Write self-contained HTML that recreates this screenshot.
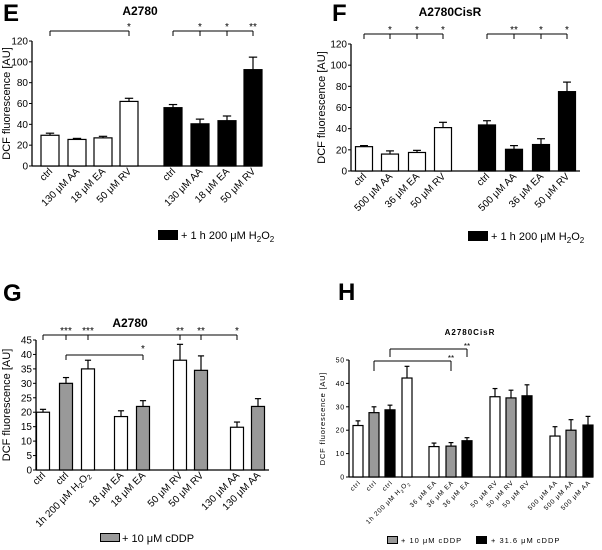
<!DOCTYPE html>
<html><head><meta charset="utf-8"><style>
html,body{margin:0;padding:0;background:#fff;}
svg{display:block;font-family:"Liberation Sans",Arial,sans-serif;}
</style></head><body>
<svg id="fig" width="602" height="550" viewBox="0 0 602 550">
<g font-weight="bold" font-size="24">
<text x="3" y="21">E</text>
<text x="332" y="21">F</text>
<text x="3" y="301">G</text>
<text x="338" y="300">H</text>
</g>
<text x="140" y="15" font-size="12" font-weight="bold" text-anchor="middle">A2780</text>
<text x="450" y="16" font-size="12" font-weight="bold" text-anchor="middle">A2780CisR</text>
<text x="130" y="327" font-size="12" font-weight="bold" text-anchor="middle">A2780</text>
<text x="470" y="335" font-size="8" font-weight="bold" letter-spacing="1" text-anchor="middle">A2780CisR</text>
<!-- legends -->
<rect x="158" y="230" width="20" height="10" fill="#000"/>
<text x="181" y="239" font-size="11">+ 1 h 200 μM H<tspan font-size="8" dy="3">2</tspan><tspan dy="-3">O</tspan><tspan font-size="8" dy="3">2</tspan></text>
<rect x="468" y="231" width="20" height="10" fill="#000"/>
<text x="491" y="240" font-size="11">+ 1 h 200 μM H<tspan font-size="8" dy="3">2</tspan><tspan dy="-3">O</tspan><tspan font-size="8" dy="3">2</tspan></text>
<rect x="100.5" y="533.5" width="19" height="8" fill="#999" stroke="#000"/>
<text x="122" y="542" font-size="11">+ 10 μM cDDP</text>
<rect x="387.5" y="536.5" width="10" height="7" fill="#999" stroke="#000"/>
<text x="401" y="543" font-size="7.5" letter-spacing="1">+ 10 μM cDDP</text>
<rect x="476" y="536" width="11" height="8" fill="#000"/>
<text x="491" y="543" font-size="7.5" letter-spacing="1">+ 31.6 μM cDDP</text>
</svg>
<script>
// Panel E
const eLabels=["ctrl","130 μM AA","18 μM EA","50 μM RV","ctrl","130 μM AA","18 μM EA","50 μM RV"];
const eValues=[29.5,25.5,27,62,56,40.5,43.5,92.5];
const eErrors=[2,1,1.5,3,3,4.5,4.5,12];
const eFills=["w","w","w","w","k","k","k","k"];
const eTicks=[0,20,40,60,80,100,120];
// Panel F
const fLabels=["ctrl","500 μM AA","36 μM EA","50 μM RV","ctrl","500 μM AA","36 μM EA","50 μM RV"];
const fValues=[23,16,17.5,41,43.5,20.5,25,75];
const fErrors=[1,3,2,5,4,3.5,5.5,9];
const fFills=["w","w","w","w","k","k","k","k"];
const fTicks=[0,20,40,60,80,100,120];
// Panel G
const gLabels=["ctrl","ctrl","1h 200 μM H2O2","18 μM EA","18 μM EA","50 μM RV","50 μM RV","130 μM AA","130 μM AA"];
const gValues=[20,30,35,18.5,22,38,34.5,14.8,22];
const gErrors=[1,2,3,2,2,5.5,5,1.8,2.7];
const gFills=["w","g","w","w","g","w","g","w","g"];
const gTicks=[0,5,10,15,20,25,30,35,40,45];
// Panel H
const hLabels=["ctrl","ctrl","ctrl","1h 200 μM H2O2","36 μM EA","36 μM EA","36 μM EA","50 μM RV","50 μM RV","50 μM RV","500 μM AA","500 μM AA","500 μM AA"];
const hValues=[22,27.5,28.7,42.3,13,13.2,15.5,34.3,33.8,34.7,17.5,20,22.2];
const hErrors=[2,2.5,2,5,1.5,1.5,1.3,3.5,3.3,4.7,4,4.5,3.7];
const hFills=["w","g","k","w","w","g","k","w","g","k","w","g","k"];
const hTicks=[0,10,20,30,40,50];

const NS="http://www.w3.org/2000/svg";
const svg=document.getElementById('fig');
function el(tag,attrs,parent){const e=document.createElementNS(NS,tag);for(const k in attrs)e.setAttribute(k,attrs[k]);(parent||svg).appendChild(e);return e;}
const fillMap={w:"#fff",g:"#999",k:"#000"};

function panel(p){
  const g=el('g',{});
  
  
  const ymax=p.ticks[p.ticks.length-1];
  const Y=v=>p.y0-(v/ymax)*(p.y0-p.yTop);
  const X=i=>p.centers[i];
  const ax=el('line',{x1:p.ax,y1:p.y0,x2:p.ax,y2:p.yTop,stroke:"#000","stroke-width":1.3},g);
  
  
  const xa=el('line',{x1:p.ax,y1:p.y0,x2:p.axEnd,y2:p.y0,stroke:"#000","stroke-width":1.3},g);
  
  
  p.ticks.forEach(t=>{
    el('line',{x1:p.ax-3,x2:p.ax,y1:Y(t),y2:Y(t),stroke:"#000"},g);
    const tl=el('text',{x:p.ax-4,y:Y(t)+p.tfs*0.35,"font-size":p.tfs,"text-anchor":"end","letter-spacing":p.ls||0},g);
    tl.textContent=t;
    
    
  });
  const yl=el('text',{x:0,y:0,"font-size":p.yfs,"text-anchor":"middle","letter-spacing":p.ls||0,transform:`translate(${p.ylx},${(p.y0+p.yTop)/2}) rotate(-90)`},g);
  yl.textContent="DCF fluorescence [AU]";
  
  
  p.values.forEach((v,i)=>{
    const cx=X(i),w=p.bw;
    const top=Y(v+p.errors[i]);
    el('line',{x1:cx,x2:cx,y1:Y(v),y2:top,stroke:"#000","stroke-width":1.2},g);
    el('line',{x1:cx-w*0.22,x2:cx+w*0.22,y1:top,y2:top,stroke:"#000","stroke-width":1.2},g);
    const r=el('rect',{x:cx-w/2+0.5,y:Y(v),width:w-1,height:p.y0-Y(v),fill:fillMap[p.fills[i]],stroke:"#000","stroke-width":1.2},g);
    
    
    const lab=p.labels[i];
    const t=el('text',{x:0,y:0,"font-size":p.lfs,"text-anchor":"end","letter-spacing":p.ls||0,transform:`translate(${cx+3},${p.y0+6}) rotate(-45)`},g);
    if(lab.indexOf("H2O2")>=0){
      t.textContent=lab.replace("H2O2","H");
      const s1=el('tspan',{"font-size":p.lfs*0.7,dy:2},t);s1.textContent="2";
      const s2=el('tspan',{dy:-2},t);s2.textContent="O";
      const s3=el('tspan',{"font-size":p.lfs*0.7,dy:2},t);s3.textContent="2";
    } else t.textContent=lab;
    
    
  });
  (p.brackets||[]).forEach(b=>{
    const xs=b.ticks.map(i=>X(i));
    el('line',{x1:X(b.from),x2:xs[xs.length-1],y1:b.y,y2:b.y,stroke:"#000"},g);
    el('line',{x1:X(b.from),x2:X(b.from),y1:b.y,y2:b.y+b.drop,stroke:"#000"},g);
    b.ticks.forEach((i,k)=>{
      el('line',{x1:X(i),x2:X(i),y1:b.y,y2:b.y+b.drop,stroke:"#000"},g);
      const s=el('text',{x:X(i),y:b.sy,"font-size":p.sfs,"text-anchor":"middle"},g);
      s.textContent=b.stars[k];
      
      
    });
  });
}
panel({name:"chart-e",values:eValues,errors:eErrors,fills:eFills,labels:eLabels,ticks:eTicks,
 ax:32,axEnd:262,y0:166,yTop:41,centers:[50,77,103,129,173,200,227,253],bw:19,tfs:10,yfs:11,lfs:10,ylx:10,sfs:10,
 brackets:[{from:0,ticks:[3],stars:["*"],y:31,drop:5,sy:30},{from:4,ticks:[5,6,7],stars:["*","*","**"],y:31,drop:5,sy:30}]});
panel({name:"chart-f",values:fValues,errors:fErrors,fills:fFills,labels:fLabels,ticks:fTicks,
 ax:351,axEnd:580,y0:171,yTop:44,centers:[364,390,417,443,487,514,541,567],bw:18,tfs:10,yfs:11,lfs:10,ylx:325,sfs:10,
 brackets:[{from:0,ticks:[1,2,3],stars:["*","*","*"],y:34,drop:5,sy:33},{from:4,ticks:[5,6,7],stars:["**","*","*"],y:34,drop:5,sy:33}]});
panel({name:"chart-g",values:gValues,errors:gErrors,fills:gFills,labels:gLabels,ticks:gTicks,
 ax:36,axEnd:269,y0:470,yTop:340,centers:[43,66,88,121,143,180,201,237,258],bw:14,tfs:10,yfs:11,lfs:10,ylx:10,sfs:10,
 brackets:[{from:0,ticks:[1,2,5,6,7],stars:["***","***","**","**","*"],y:335,drop:5,sy:334},{from:1,ticks:[4],stars:["*"],y:355,drop:5,sy:352}]});
panel({name:"chart-h",values:hValues,errors:hErrors,fills:hFills,labels:hLabels,ticks:hTicks,
 ax:349,axEnd:593,y0:477,yTop:360,centers:[358,374,390,407,434,451,467,495,511,527,555,571,588],bw:11,tfs:7,yfs:7.5,lfs:6.5,ylx:325,sfs:8,ls:0.8,
 brackets:[{from:1,ticks:[5],stars:["**"],y:361,drop:10,sy:361},{from:2,ticks:[6],stars:["**"],y:349,drop:8,sy:349}]});
</script>
</body></html>
